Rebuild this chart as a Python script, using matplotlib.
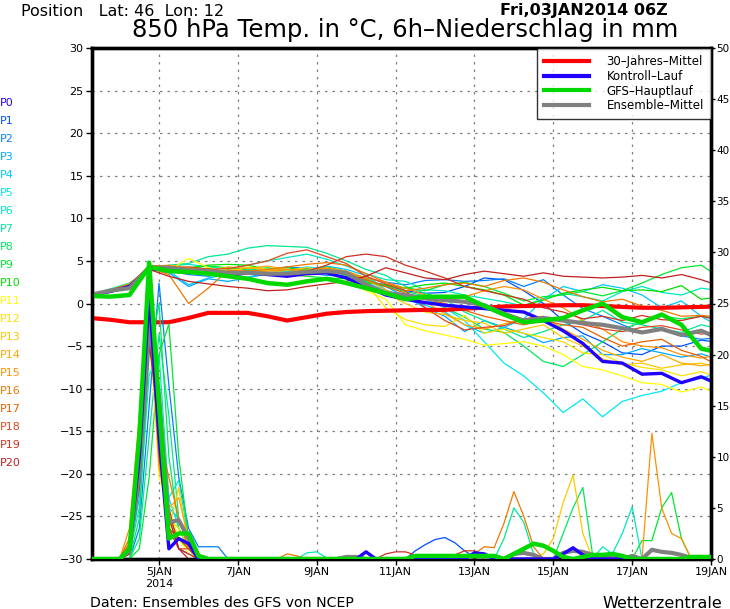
import numpy as np
import matplotlib
matplotlib.use('Agg')
import matplotlib.pyplot as plt
from matplotlib.lines import Line2D

# time axis in days of January 2014 (start 03JAN 06Z)
t12 = [3.25 + 0.5 * i for i in range(33)]
t6 = [3.25 + 0.25 * i for i in range(65)]

# 850 hPa temperature, 12-hourly
clim = [-1.7, -1.9, -2.2, -2.2, -2.2, -1.7, -1.1, -1.1, -1.1, -1.5, -2.0, -1.6, -1.2, -1.0, -0.9, -0.85,
        -0.8, -0.75, -0.75, -0.6, -0.5, -0.35, -0.3, -0.25, -0.2, -0.2, -0.3, -0.4, -0.5, -0.5, -0.45, -0.4, -0.35]
control = [1.0, 1.4, 2.0, 4.1, 4.0, 3.8, 3.6, 3.3, 3.6, 3.4, 3.2, 3.5, 3.6, 3.0, 2.0, 1.0,
           0.5, 0.1, -0.2, -0.4, -0.6, -0.8, -1.0, -2.0, -3.2, -4.7, -6.8, -7.0, -8.3, -8.2, -9.3, -8.6, -9.6]
gfs = [0.9, 0.8, 1.0, 4.3, 3.8, 3.7, 3.5, 3.2, 2.9, 2.4, 2.2, 2.6, 2.9, 2.4, 1.8, 1.2,
       0.5, 0.8, 0.8, 0.8, -0.3, -1.3, -2.2, -2.0, -1.7, -0.8, 0.0, -1.6, -2.2, -1.3, -2.5, -5.3, -5.8]
ens_mean = [1.0, 1.5, 1.8, 4.2, 4.2, 3.9, 3.8, 3.6, 3.6, 3.5, 3.5, 3.7, 3.8, 3.6, 2.2, 1.2,
            1.0, 0.6, 0.4, 0.2, -0.2, -1.2, -2.0, -1.7, -2.0, -2.3, -2.5, -2.9, -3.4, -3.0, -3.7, -3.2, -4.2]

members = [
    [1.0, 1.6, 2.2, 4.2, 4.3, 4.0, 3.8, 3.9, 4.2, 4.0, 3.8, 4.1, 3.9, 3.4, 2.6, 2.2, 1.5, 1.2, 1.3, 2.0, 3.0, 2.8, 1.5, 0.0, -2.0, -3.5, -4.5, -5.8, -6.0, -5.0, -5.0, -4.3, -4.6],
    [1.0, 1.4, 2.0, 4.4, 3.8, 3.4, 3.2, 3.6, 3.8, 3.9, 4.3, 4.1, 4.0, 3.6, 3.0, 2.5, 2.2, 2.7, 2.8, 2.6, 2.7, 2.9, 2.0, 2.8, 1.0, -0.6, -1.5, -2.5, -3.4, -2.8, -3.8, -4.2, -4.0],
    [1.0, 1.5, 2.0, 4.0, 3.6, 2.0, 2.9, 2.6, 3.0, 3.5, 3.9, 3.6, 3.3, 3.2, 2.7, 2.0, 0.8, -0.5, -1.5, -3.3, -2.0, -2.8, -3.5, -4.6, -4.0, -3.8, -6.0, -6.0, -5.3, -5.8, -6.3, -5.9, -6.7],
    [1.0, 1.4, 1.9, 4.3, 3.8, 2.2, 3.0, 3.4, 3.1, 3.6, 3.2, 3.7, 4.4, 4.0, 3.3, 1.6, 0.5, -0.2, -1.0, -2.5, -3.5, -2.8, -1.8, 0.5, 2.0, 1.4, 2.2, 1.8, 1.0, -0.5, 0.3, -1.5, -2.8],
    [1.0, 1.5, 2.0, 4.2, 4.0, 3.6, 3.8, 3.9, 4.0, 3.5, 3.8, 4.3, 4.0, 3.4, 2.5, 1.5, 1.0, 0.5, -0.5, -2.0, -4.5, -7.0, -8.5, -10.5, -12.8, -11.2, -13.3, -11.5, -10.8, -10.3, -9.3, -8.8, -8.0],
    [1.0, 1.6, 2.3, 4.0, 4.4, 4.6, 4.3, 4.0, 4.5, 5.0, 5.4, 5.8, 5.2, 4.4, 3.5, 2.8, 2.6, 1.6, 1.5, 1.0, 0.6, 0.2, -0.3, 0.6, 1.2, 0.8, 0.3, 1.4, 2.0, 1.3, 1.0, 1.8, 1.5],
    [1.0, 1.7, 2.4, 4.0, 4.5, 4.7, 5.5, 5.8, 6.5, 6.8, 6.7, 6.6, 5.9, 5.0, 4.0, 3.3, 2.0, 1.2, 0.5, -1.0, -2.0, -3.0, -4.0, -3.3, -2.5, -2.0, -0.8, -2.2, -2.5, -3.0, -3.4, -2.5, -3.0],
    [1.0, 1.5, 2.1, 4.4, 4.1, 4.2, 3.8, 3.5, 3.9, 4.2, 3.9, 4.0, 4.3, 3.8, 2.9, 2.0, 1.4, 0.9, -0.5, -1.6, -3.0, -3.4, -5.0, -6.8, -7.4, -6.0, -4.5, -3.0, -2.2, -1.5, -1.8, -1.5, -1.8],
    [1.0, 1.6, 2.2, 4.3, 4.3, 4.1, 4.4, 4.2, 3.9, 3.6, 3.4, 3.2, 3.0, 2.9, 2.6, 2.0, 1.8, 1.5, 2.2, 2.5, 2.0, 1.2, 0.3, 0.8, 1.0, 1.4, 0.9, 1.5, 2.4, 3.4, 4.2, 4.5, 3.0],
    [1.0, 1.3, 1.8, 4.2, 4.0, 4.2, 4.5, 4.6, 4.5, 4.0, 4.2, 3.9, 4.0, 3.3, 2.4, 2.2, 1.8, 2.2, 2.4, 2.0, 1.6, 1.0, -0.2, 0.4, 1.2, 1.6, 1.9, 1.5, 1.6, 1.4, 2.1, 0.5, 0.8],
    [1.0, 1.5, 2.2, 4.0, 3.9, 5.3, 4.2, 3.6, 4.3, 4.0, 3.5, 3.3, 3.8, 3.0, 1.5, 0.5, -2.5, -3.2, -3.7, -4.2, -4.9, -4.7, -4.5, -5.0, -6.0, -7.4, -7.8, -8.5, -9.3, -9.5, -10.4, -9.8, -10.8],
    [1.0, 1.4, 2.1, 4.3, 3.7, 3.9, 3.4, 4.1, 3.7, 3.9, 3.6, 3.9, 3.5, 3.6, 2.4, -0.5, -1.9, -2.5, -2.7, -1.4, -3.5, -3.0, -3.5, -4.0, -4.5, -5.8, -6.0, -7.0, -7.5, -7.8, -8.5, -8.0, -8.8],
    [1.0, 1.5, 2.0, 4.5, 4.3, 3.7, 4.0, 3.8, 4.2, 4.0, 3.9, 4.2, 3.8, 3.5, 2.2, 1.2, 0.0, -1.0, -1.3, -2.0, -2.3, -3.5, -3.0, -2.5, -4.0, -5.0, -6.5, -7.2, -7.0, -7.6, -7.2, -7.0, -7.6],
    [1.0, 1.6, 2.3, 4.3, 4.5, 4.2, 3.8, 4.3, 4.1, 4.4, 4.0, 3.9, 4.1, 3.7, 2.8, 1.6, 0.5, 0.2, -1.2, -2.5, -3.0, -2.4, -1.8, -1.5, -3.0, -4.2, -5.5, -6.3, -6.8, -6.0, -7.0, -7.3, -7.0],
    [1.0, 1.4, 1.9, 4.1, 3.9, 3.6, 3.7, 3.4, 3.6, 3.8, 4.0, 3.8, 4.2, 3.8, 3.0, 2.5, 1.8, 1.0, 0.5, 0.8, 1.5, 2.0, 1.6, 0.5, -0.5, -2.0, -3.0, -4.5, -5.0, -5.2, -6.0, -6.4, -6.0],
    [1.0, 1.5, 2.0, 4.2, 3.4, 0.0, 1.8, 3.9, 3.8, 4.0, 4.3, 4.6, 4.8, 4.5, 3.5, 2.5, 1.5, 1.8, 2.2, 2.4, 2.0, 2.7, 3.0, 2.5, 1.6, 0.8, 0.2, 0.5, -0.3, -0.8, -1.5, -1.4, -1.6],
    [1.0, 1.6, 2.2, 4.4, 4.4, 4.0, 4.1, 3.7, 3.6, 3.4, 3.2, 3.7, 4.0, 3.5, 2.8, 2.0, 1.2, 0.5, 0.0, -0.8, -1.5, -2.0, -2.5, -2.0, -2.5, -2.8, -4.0, -5.0, -4.5, -4.2, -5.5, -6.2, -7.5],
    [1.0, 1.5, 2.1, 4.0, 4.2, 4.3, 4.0, 4.1, 4.5, 5.0, 5.9, 6.3, 5.5, 4.7, 3.2, 2.3, 1.5, -0.5, -2.0, -3.1, -2.8, -2.6, -1.8, -1.6, -2.0, -2.5, -3.0, -3.3, -2.8, -2.6, -3.1, -3.6, -3.2],
    [1.0, 1.4, 2.0, 4.1, 4.0, 3.8, 3.6, 3.3, 3.5, 3.6, 3.4, 3.8, 4.5, 5.5, 5.8, 5.5, 4.5, 3.8, 3.0, 2.0, 1.5, 1.0, 0.5, -0.5, -1.0, -1.8, -1.5, -2.0, -1.4, -1.9, -2.0, -1.5, -2.0],
    [1.0, 1.4, 1.8, 4.0, 3.2, 2.6, 2.3, 2.0, 1.8, 1.5, 1.6, 2.0, 2.3, 2.6, 3.2, 4.2, 3.6, 3.0, 2.8, 3.4, 3.8, 3.5, 3.2, 3.6, 3.2, 3.1, 3.0, 3.1, 3.3, 3.0, 3.4, 2.8, 2.0],
]

# 6h precipitation, main event 4-6 JAN (order: P0 .. P20, GFS, mean)
rr_t_early = [4.0, 4.25, 4.5, 4.75, 5.0, 5.25, 5.5, 5.75, 6.0, 6.25, 6.5, 6.75]
rr_early = [
    [0, 1, 10, 26, 12, 1, 2, 1.5, 0, 0, 0, 0],
    [0, 0.5, 8, 24, 14, 3, 1, 0.5, 0, 0, 0, 0],
    [0, 0, 3, 15, 27, 17, 8, 3, 1.2, 1.2, 1.2, 0],
    [0, 1, 12, 25, 10, 4, 2, 1, 0, 0, 0, 0],
    [0, 0.5, 6, 22, 15, 5, 4, 2, 0, 0, 0, 0],
    [0, 1, 9, 24, 11, 6, 3, 1, 0, 0, 0, 0],
    [0, 0.5, 5, 18, 20, 6, 7.7, 2, 0, 0, 0, 0],
    [0, 0, 2, 12, 22, 14, 4, 1, 0, 0, 0, 0],
    [0, 0, 4, 20, 25, 10, 3, 1, 0, 0, 0, 0],
    [0, 0, 1, 8, 20, 23, 10, 2, 0, 0, 0, 0],
    [0, 1, 8, 24, 15, 3, 2, 1, 0, 0, 0, 0],
    [0, 1, 10, 25, 8, 5, 2, 0.5, 0, 0, 0, 0],
    [0, 0.5, 8, 23, 9, 4, 3, 1, 0, 0, 0, 0],
    [0, 1, 9, 26, 10, 3, 7, 1, 0, 0, 0, 0],
    [0, 2, 12, 27, 11, 5, 6, 2, 0, 0, 0, 0],
    [0, 3, 14, 26, 9, 4, 2, 1, 0, 0, 0, 0],
    [0, 2, 13, 28, 12, 8, 4, 1, 0, 0, 0, 0],
    [0, 1.5, 11, 25, 10, 3, 2, 1, 0, 0, 0, 0],
    [0, 1, 9, 24, 13, 3, 1, 1, 0, 0, 0, 0],
    [0, 0.5, 8, 22, 12, 5, 1, 0.5, 0, 0, 0, 0],
    [0, 0.5, 7, 21, 14, 4, 1, 0, 0, 0, 0, 0],
    [0, 1, 12, 29, 15, 2, 2.5, 2.5, 0.3, 0, 0, 0],
    [0, 0.8, 8.5, 23, 16, 3.6, 3.8, 2, 0.3, 0, 0, 0],
]

# later small events: member index -> {time: mm}
rr_late = {
    0: {10.25: 0.7, 13.0: 0.6, 13.25: 0.5, 15.25: 0.5, 15.5: 1.1, 15.75: 0.4},
    1: {11.5: 0.8, 11.75: 1.4, 12.0: 1.9, 12.25: 2.1, 12.5: 1.6, 12.75: 0.8, 13.0: 0.2},
    6: {8.75: 0.6, 9.0: 0.7, 9.25: 0.1, 16.25: 1.2, 16.5: 0.5, 16.75: 2.5, 17.0: 5.1},
    7: {13.75: 2.0, 14.0: 5.0, 14.25: 3.6, 14.5: 0.5},
    8: {15.25: 2.5, 15.5: 5.0, 15.75: 7.0, 16.0: 0.3},
    9: {17.25: 1.8, 17.5: 1.8, 17.75: 5.0, 18.0: 6.5, 18.25: 2.0},
    13: {14.75: 0.5, 15.0: 2.0, 15.25: 5.5, 15.5: 8.2, 15.75: 2.5},
    15: {17.5: 12.3, 17.75: 5.0, 18.0: 2.5, 18.25: 2.0},
    16: {8.25: 0.5, 8.5: 0.3, 13.0: 0.5, 13.25: 1.2, 13.5: 1.1, 13.75: 3.5, 14.0: 6.6, 14.25: 4.2, 14.5: 1.2},
    19: {10.75: 0.5, 11.0: 0.7, 11.25: 0.7, 11.5: 0.4, 12.5: 0.4, 12.75: 0.8, 13.0: 0.8, 13.25: 0.3},
    21: {11.5: 0.3, 11.75: 0.3, 12.0: 0.3, 12.25: 0.3, 12.5: 0.3, 12.75: 0.3, 13.0: 0.3, 13.25: 0.3, 13.5: 0.3,
         14.0: 0.5, 14.25: 1.0, 14.5: 1.5, 14.75: 1.3, 15.0: 0.8, 15.25: 0.2, 15.75: 0.2, 16.0: 0.4,
         16.25: 0.4, 16.5: 0.5, 16.75: 0.3, 18.5: 0.2, 18.75: 0.2, 19.0: 0.2},
    22: {9.75: 0.2, 10.0: 0.2, 13.0: 0.3, 13.5: 0.3, 14.0: 0.5, 14.25: 0.6, 14.5: 0.4, 15.25: 0.6, 15.5: 0.8,
         15.75: 0.7, 16.0: 0.4, 16.5: 0.4, 17.0: 0.3, 17.5: 0.9, 17.75: 0.7, 18.0: 0.6, 18.25: 0.4, 18.5: 0.1},
}

member_colors = ['#2000ff', '#0050ff', '#0080ff', '#00a8ff', '#00c8ff', '#00e8f0', '#00e8c0',
                 '#00e890', '#00e860', '#00e830', '#00e000', '#ffff00', '#ffe000', '#ffc800',
                 '#ffa800', '#ff9000', '#f07800', '#e86000', '#e04820', '#d03020', '#c02020']
c_clim, c_ctrl, c_gfs, c_mean = '#ff0000', '#2000ff', '#00d800', '#808080'

date_ticks = [5, 7, 9, 11, 13, 15, 17, 19]
date_labels = ['5JAN\n2014', '7JAN', '9JAN', '11JAN', '13JAN', '15JAN', '17JAN', '19JAN']


def precip_series(k):
    rr = dict(zip(rr_t_early, rr_early[k]))
    rr.update(rr_late.get(k, {}))
    return [rr.get(t, 0.0) for t in t6]


fig = plt.figure(figsize=(7.3, 6.09), dpi=100)
ax = fig.add_axes([92 / 730, 1 - 559 / 609, 619 / 730, 511 / 609])
ax2 = ax.twinx()

# thin ensemble members
for i in range(1, 21):
    ax.plot(t12, members[i - 1], color=member_colors[i], lw=0.9, zorder=2)
    ax2.plot(t6, precip_series(i), color=member_colors[i], lw=0.9, zorder=2)

# bold lines
ax2.plot(t6, precip_series(22), color=c_mean, lw=3, zorder=3)
ax2.plot(t6, precip_series(0), color=c_ctrl, lw=2.4, zorder=3)
ax2.plot(t6, precip_series(21), color=c_gfs, lw=3.2, zorder=4)
ax.plot(t12, clim, color=c_clim, lw=3, zorder=5)
ax.plot(t12, control, color=c_ctrl, lw=2.4, zorder=5)
ax.plot(t12, ens_mean, color=c_mean, lw=3, zorder=5)
ax.plot(t12, gfs, color=c_gfs, lw=3.2, zorder=6)

# axes styling
ax.set_xlim(3.3, 19.0)
ax.set_ylim(-30, 30)
ax2.set_ylim(0, 50)
ax.set_yticks(range(-30, 31, 5))
ax2.set_yticks(range(0, 51, 5))
ax.set_xticks(date_ticks)
ax.set_xticklabels(date_labels)
ax.tick_params(labelsize=8, length=4, width=1, direction='out', pad=2)
ax2.tick_params(labelsize=7.5, length=3, width=1, direction='out', pad=1)
for a in (ax, ax2):
    for s in a.spines.values():
        s.set_linewidth(2.4)
ax.grid(True, color='#808080', linestyle=(0, (2, 4)), linewidth=0.9)
ax.set_axisbelow(True)

handles = [Line2D([], [], color=c_clim, lw=3), Line2D([], [], color=c_ctrl, lw=3),
           Line2D([], [], color=c_gfs, lw=3), Line2D([], [], color=c_mean, lw=3)]
leg = ax2.legend(handles, ['30\u2013Jahres\u2013Mittel', 'Kontroll\u2013Lauf', 'GFS\u2013Hauptlauf', 'Ensemble\u2013Mittel'],
                 loc='upper right', fontsize=8.5, frameon=True, fancybox=False, borderaxespad=0,
                 handlelength=3.8, handletextpad=1.5, labelspacing=0.15, borderpad=0.6)
leg.get_frame().set_edgecolor('black')
leg.get_frame().set_linewidth(1)
leg.set_zorder(10)

# header / footer
fig.text(21 / 730, 1 - 11 / 609, 'Position   Lat: 46  Lon: 12', fontsize=11.5, va='center', ha='left')
fig.text(668 / 730, 1 - 11 / 609, 'Fri,03JAN2014 06Z', fontsize=11.5, fontweight='bold', va='center', ha='right')
fig.text(405 / 730, 1 - 30 / 609, '850 hPa Temp. in \u00b0C, 6h\u2013Niederschlag in mm', fontsize=17.5,
         va='center', ha='center')
fig.text(90 / 730, 1 - 603 / 609, 'Daten: Ensembles des GFS von NCEP', fontsize=10.2, va='center', ha='left')
fig.text(722 / 730, 1 - 603 / 609, 'Wetterzentrale', fontsize=11.5, va='center', ha='right')

for i, c in enumerate(member_colors):
    fig.text(0, 1 - (103 + 18 * i) / 609, 'P%d' % i, color=c, fontsize=8, va='center', ha='left')

fig.savefig('out.png', dpi=100)
